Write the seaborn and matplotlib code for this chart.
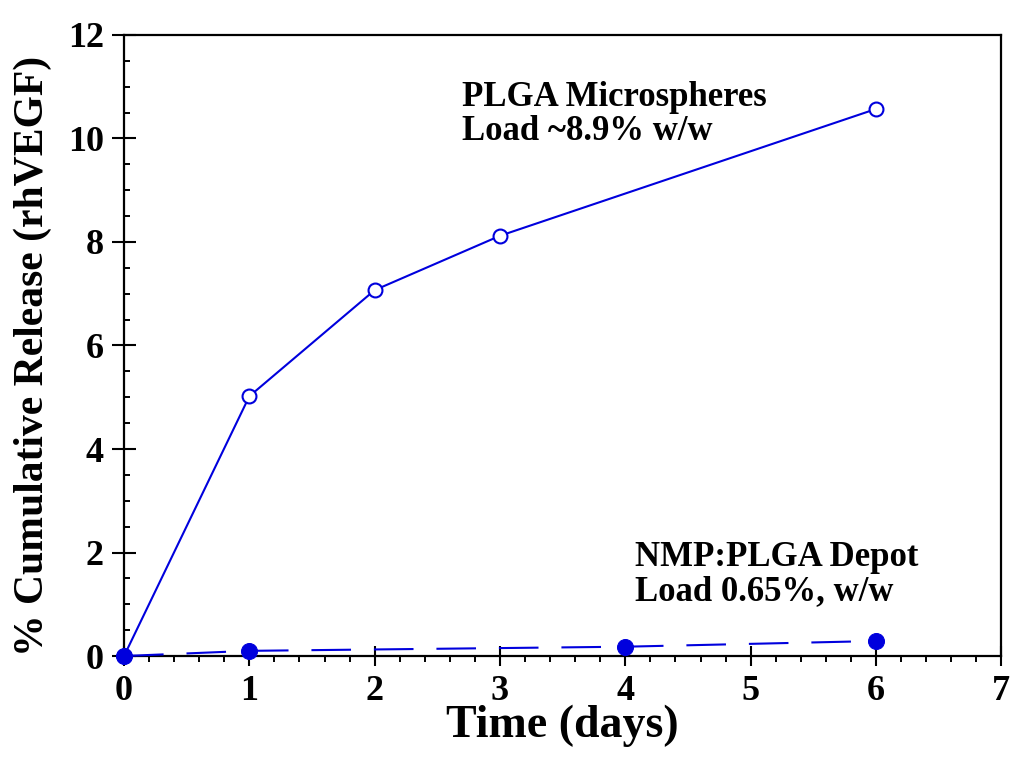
import matplotlib
matplotlib.use("Agg")
import matplotlib.pyplot as plt
import seaborn as sns
import pandas as pd
from matplotlib.ticker import MultipleLocator

# data
micro_days = [0, 1, 2, 3, 6]
micro_release = [0.0, 5.02, 7.07, 8.12, 10.57]
depot_days = [0, 1, 4, 6]
depot_release = [0.0, 0.10, 0.18, 0.29]

micro = pd.DataFrame({"day": micro_days, "release": micro_release})
depot = pd.DataFrame({"day": depot_days, "release": depot_release})

sns.set_style("ticks")
plt.rcParams["font.family"] = ["Liberation Serif", "DejaVu Serif"]
plt.rcParams["font.weight"] = "bold"
for k in ["text.color", "axes.labelcolor", "xtick.color", "ytick.color",
          "axes.edgecolor"]:
    plt.rcParams[k] = "black"

blue = "#0000dd"

fig = plt.figure(figsize=(10.11, 7.57), dpi=100)
ax = fig.add_axes([0.1227, 0.1334, 0.8677, 0.8204])

sns.lineplot(data=micro, x="day", y="release", ax=ax, color=blue, lw=1.5,
             marker="o", markersize=10, markerfacecolor="white",
             markeredgecolor=blue, markeredgewidth=1.5, clip_on=False,
             zorder=5)
sns.lineplot(data=depot, x="day", y="release", ax=ax, color=blue, lw=1.5,
             marker="o", markersize=11.5, markerfacecolor=blue,
             markeredgecolor=blue, clip_on=False, zorder=6)
ax.lines[-1].set_dashes((19, 11))

ax.set_xlim(0, 7)
ax.set_ylim(0, 12)
ax.xaxis.set_major_locator(MultipleLocator(1))
ax.xaxis.set_minor_locator(MultipleLocator(0.2))
ax.yaxis.set_major_locator(MultipleLocator(2))
ax.yaxis.set_minor_locator(MultipleLocator(0.5))
ax.tick_params(axis="x", which="major", direction="inout", length=15,
               width=1.5, labelsize=26, pad=6)
ax.tick_params(axis="y", which="major", direction="inout", length=17,
               width=1.5, labelsize=26, pad=6)
ax.tick_params(axis="x", which="minor", direction="out", length=4, width=1.4)
ax.tick_params(axis="y", which="minor", direction="in", length=4, width=1.4)
for lbl in ax.get_xticklabels() + ax.get_yticklabels():
    lbl.set_fontweight("bold")
for s in ax.spines.values():
    s.set_linewidth(1.6)
    s.set_visible(True)

ax.set_xlabel("Time (days)", fontsize=33, fontweight="bold", labelpad=-2)
ax.set_ylabel("% Cumulative Release (rhVEGF)", fontsize=30, fontweight="bold")
ax.yaxis.set_label_coords(-0.082, 0.483)

ann = dict(fontsize=25, fontweight="bold", ha="left", va="baseline")
ax.text(2.70, 10.63, "PLGA Microspheres", **ann)
ax.text(2.70, 9.97, "Load ~8.9% w/w", **ann)
ax.text(4.08, 1.74, "NMP:PLGA Depot", **ann)
ax.text(4.08, 1.08, "Load 0.65%, w/w", **ann)

fig.savefig("out.png", dpi=100)
